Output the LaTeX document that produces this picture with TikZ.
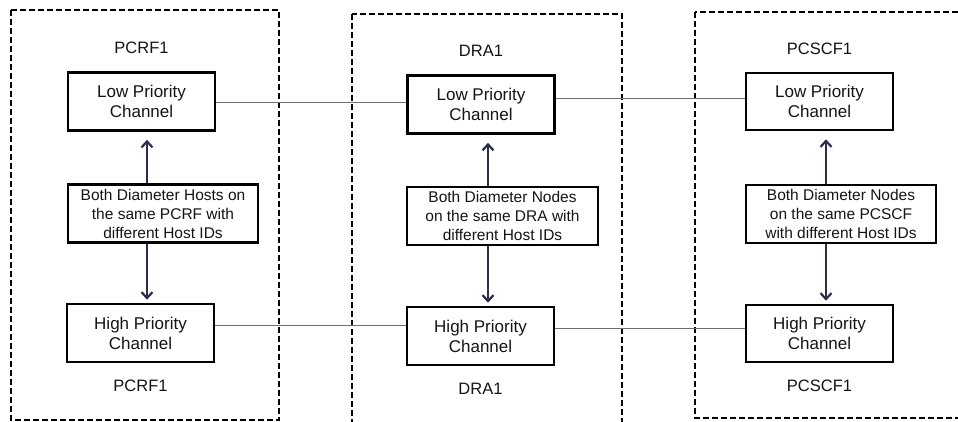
\documentclass[tikz,border=0pt]{standalone}
\usepackage{fontspec}
\setmainfont{Liberation Sans}
\usepackage{tikz}
\usetikzlibrary{arrows.meta,positioning}
\definecolor{arrowblue}{HTML}{2B2D4D}
\definecolor{linkgray}{HTML}{6E6E6E}
\definecolor{darktext}{HTML}{141414}
\tikzset{
  chanbox/.style={draw,line width=2.6pt,minimum width=147pt,minimum height=58pt,align=center,inner sep=0pt,font=\fontsize{17}{20}\selectfont,text=darktext},
  hostbox/.style={draw,line width=2.6pt,minimum width=190pt,minimum height=58pt,align=center,inner sep=0pt,font=\fontsize{15.5}{19}\selectfont,text=darktext},
  sitelabel/.style={font=\fontsize{16.5}{19}\selectfont,text=darktext},
  sitebox/.style={draw,line width=2.4pt,dash pattern=on 6pt off 3pt},
  pointer/.style={-{Straight Barb[length=6pt,width=11pt,line width=2.2pt]},line width=2.5pt,arrowblue},
  link/.style={linkgray,line width=1pt}
}
\begin{document}
\begin{tikzpicture}[x=1pt,y=1pt]
  \useasboundingbox (0,0) rectangle (958,421);
  \clip (0,0) rectangle (958,421);

  % Dashed site frames
  \draw[sitebox] (11,411) rectangle (279,1);
  \draw[sitebox] (352,407) rectangle (622,-5);
  \draw[sitebox] (695,409) rectangle (965,3);

  % PCRF1
  \node[chanbox] (lowA) at (141.5,319.5) {Low Priority\\Channel};
  \node[hostbox] (midA) at (163,207.5) {Both Diameter Hosts on\\the same PCRF with\\different Host IDs};
  \node[chanbox] (hiA) at (140.5,88) {High Priority\\Channel};
  \node[sitelabel,above=14pt of lowA] (topA) {PCRF1};
  \node[sitelabel,below=13pt of hiA] (botA) {PCRF1};

  % DRA1
  \node[chanbox] (lowB) at (481,316.5) {Low Priority\\Channel};
  \node[hostbox,minimum width=191pt] (midB) at (502.5,205) {Both Diameter Nodes\\on the same DRA with\\different Host IDs};
  \node[chanbox] (hiB) at (480.5,85) {High Priority\\Channel};
  \node[sitelabel,above=14pt of lowB] (topB) {DRA1};
  \node[sitelabel,below=13pt of hiB] (botB) {DRA1};

  % PCSCF1
  \node[chanbox,minimum height=57pt] (lowC) at (819.5,319.5) {Low Priority\\Channel};
  \node[hostbox] (midC) at (841,207) {Both Diameter Nodes\\on the same PCSCF\\with different Host IDs};
  \node[chanbox,minimum height=57pt] (hiC) at (819.5,87.5) {High Priority\\Channel};
  \node[sitelabel,above=14pt of lowC] (topC) {PCSCF1};
  \node[sitelabel,below=13pt of hiC] (botC) {PCSCF1};

  % Arrows from the host box to both channels
  \draw[pointer,shorten >=8pt] (midA.north -| 147,0) -- (lowA.south -| 147,0);
  \draw[pointer,shorten >=3pt] (midA.south -| 147,0) -- (hiA.north -| 147,0);
  \draw[pointer,shorten >=8pt] (midB.north -| 488,0) -- (lowB.south -| 488,0);
  \draw[pointer,shorten >=3pt] (midB.south -| 488,0) -- (hiB.north -| 488,0);
  \draw[pointer,shorten >=8pt] (midC.north -| 826,0) -- (lowC.south -| 826,0);
  \draw[pointer,shorten >=3pt] (midC.south -| 826,0) -- (hiC.north -| 826,0);

  % Channel links between sites
  \draw[link] (lowA.east |- 0,318) -- (lowB.west |- 0,318);
  \draw[link] (lowB.east |- 0,322) -- (lowC.west |- 0,322);
  \draw[link] (hiA.east |- 0,96) -- (hiB.west |- 0,96);
  \draw[link] (hiB.east |- 0,93) -- (hiC.west |- 0,93);
\end{tikzpicture}
\end{document}
